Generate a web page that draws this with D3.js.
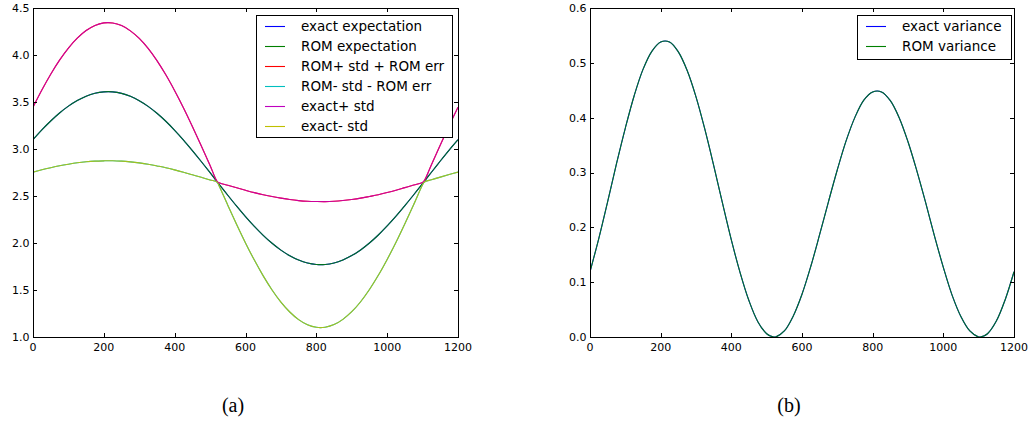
<!DOCTYPE html>
<html>
<head>
<meta charset="utf-8">
<script src="https://cdn.jsdelivr.net/npm/d3@7"></script>
<style>
  html, body { margin: 0; padding: 0; background: #fff; }
  svg { display: block; }
  text { font-family: "DejaVu Sans", sans-serif; fill: #000; }
</style>
</head>
<body>
<svg id="chart" width="1033" height="424"></svg>
<script>
// ---- data ----
const xs = [0,25,50,75,100,125,150,175,200,225,250,275,300,325,350,375,400,425,450,475,500,520,
  525,550,575,600,625,650,675,700,725,750,775,800,825,850,875,900,925,950,975,1000,1025,1050,1075,1100,1105,
  1125,1150,1175,1200];
const exactMean = [3.099,3.203,3.298,3.383,3.456,3.516,3.562,3.593,3.608,3.608,3.592,3.560,3.514,3.454,3.380,3.295,3.199,3.095,2.983,2.867,2.748,2.651,
  2.627,2.508,2.392,2.281,2.177,2.082,1.997,1.924,1.864,1.818,1.787,1.772,1.772,1.788,1.820,1.866,1.926,2.000,2.085,2.181,2.285,2.397,2.513,2.632,2.656,
  2.753,2.872,2.988,3.099];
const romMean = exactMean.slice(); // indistinguishable from exact in the picture
const upperStd = [3.444,3.627,3.795,3.945,4.074,4.179,4.260,4.315,4.342,4.341,4.313,4.257,4.176,4.070,3.940,3.789,3.620,3.437,3.240,3.035,2.825,2.654,
  2.642,2.614,2.587,2.561,2.536,2.514,2.494,2.477,2.462,2.451,2.444,2.441,2.440,2.444,2.452,2.463,2.477,2.495,2.514,2.537,2.562,2.589,2.616,2.644,2.663,
  2.833,3.043,3.248,3.444];
const lowerStd = [2.754,2.779,2.801,2.821,2.838,2.853,2.864,2.871,2.874,2.875,2.871,2.863,2.852,2.838,2.820,2.801,2.778,2.753,2.726,2.699,2.671,2.648,
  2.612,2.402,2.197,2.001,1.818,1.650,1.500,1.371,1.266,1.185,1.130,1.103,1.104,1.132,1.188,1.269,1.375,1.505,1.656,1.825,2.008,2.205,2.410,2.620,2.649,
  2.673,2.701,2.728,2.754];
const romUpper = upperStd.slice();
const romLower = lowerStd.slice();
const exactVar = [0.119,0.180,0.247,0.316,0.381,0.440,0.488,0.521,0.538,0.538,0.520,0.486,0.438,0.379,0.313,0.244,0.177,0.117,0.066,0.028,0.006,0.000,
  0.000,0.011,0.038,0.078,0.129,0.187,0.247,0.305,0.358,0.401,0.432,0.447,0.447,0.431,0.400,0.356,0.303,0.245,0.184,0.127,0.076,0.037,0.011,0.000,0.000,
  0.006,0.029,0.068,0.119];
const romVar = exactVar.slice();

const xTicks = [0,200,400,600,800,1000,1200];
const yTicksA = [1.0,1.5,2.0,2.5,3.0,3.5,4.0,4.5];
const yTicksB = [0.0,0.1,0.2,0.3,0.4,0.5,0.6];

const seriesA = [
  {label: "exact expectation", values: exactMean, color: "#0000ff", op: 1},
  {label: "ROM expectation", values: romMean, color: "#008000", op: 0.88},
  {label: "ROM+ std + ROM err", values: romUpper, color: "#ff0000", op: 1},
  {label: "ROM- std - ROM err", values: romLower, color: "#00bfbf", op: 1},
  {label: "exact+ std", values: upperStd, color: "#bf00bf", op: 0.8},
  {label: "exact- std", values: lowerStd, color: "#bfbf00", op: 0.85}
];
const seriesB = [
  {label: "exact variance", values: exactVar, color: "#0000ff", op: 1},
  {label: "ROM variance", values: romVar, color: "#008000", op: 0.88}
];

const svg = d3.select("#chart");
svg.append("rect").attr("width", 1033).attr("height", 424).attr("fill", "#fff");

function panel(opts) {
  const {x0, x1, y0, y1, ydom, yTicks, yFmt, series, legend, caption, capX} = opts;
  const x = d3.scaleLinear().domain([0, 1200]).range([x0, x1]);
  const y = d3.scaleLinear().domain(ydom).range([y1, y0]);
  const g = svg.append("g");
  const clipId = "clip" + Math.round(x0);
  g.append("clipPath").attr("id", clipId).append("rect")
    .attr("x", x0).attr("y", y0).attr("width", x1 - x0).attr("height", y1 - y0);

  const line = d3.line().x((d, i) => x(xs[i])).y(d => y(d)).curve(d3.curveCatmullRom.alpha(0.5));
  const lg = g.append("g").attr("clip-path", `url(#${clipId})`);
  series.forEach(s => {
    lg.append("path").attr("d", line(s.values)).attr("fill", "none")
      .attr("stroke", s.color).attr("stroke-width", 1.1).attr("stroke-opacity", s.op);
  });

  // ticks (inward, all four sides)
  const tl = 4;
  xTicks.forEach(t => {
    const px = Math.round(x(t)) + 0.5;
    g.append("line").attr("x1", px).attr("x2", px).attr("y1", y1).attr("y2", y1 - tl).attr("stroke", "#000");
    g.append("line").attr("x1", px).attr("x2", px).attr("y1", y0).attr("y2", y0 + tl).attr("stroke", "#000");
    g.append("text").attr("x", x(t)).attr("y", y1 + 14).attr("text-anchor", "middle")
      .attr("font-size", "11px").text(t);
  });
  yTicks.forEach(t => {
    const py = Math.round(y(t)) + 0.5;
    g.append("line").attr("x1", x0).attr("x2", x0 + tl).attr("y1", py).attr("y2", py).attr("stroke", "#000");
    g.append("line").attr("x1", x1).attr("x2", x1 - tl).attr("y1", py).attr("y2", py).attr("stroke", "#000");
    g.append("text").attr("x", x0 - 3.5).attr("y", y(t)).attr("dy", "0.36em").attr("text-anchor", "end")
      .attr("font-size", "11px").text(yFmt(t));
  });

  g.append("rect").attr("x", x0 + 0.5).attr("y", y0 + 0.5).attr("width", x1 - x0).attr("height", y1 - y0)
    .attr("fill", "none").attr("stroke", "#000").attr("stroke-width", 1);

  // legend
  const L = legend;
  const lgd = g.append("g");
  lgd.append("rect").attr("x", L.x + 0.5).attr("y", L.y + 0.5).attr("width", L.w).attr("height", L.h)
    .attr("fill", "#fff").attr("stroke", "#000").attr("stroke-width", 1);
  series.forEach((s, i) => {
    const ry = L.y + 11 + i * 20;
    lgd.append("line").attr("x1", L.x + 9).attr("x2", L.x + 29).attr("y1", ry + 0.5).attr("y2", ry + 0.5)
      .attr("stroke", s.color).attr("stroke-width", 1.1);
    lgd.append("text").attr("x", L.x + 45).attr("y", ry).attr("dy", "0.36em")
      .attr("font-size", "13.5px").text(s.label);
  });

  svg.append("text").attr("x", capX).attr("y", 412).attr("text-anchor", "middle")
    .style("font-family", "'Liberation Serif', 'DejaVu Serif', serif").attr("font-size", "20px").text(caption);
}

panel({x0: 33, x1: 458, y0: 8, y1: 337, ydom: [1.0, 4.5], yTicks: yTicksA, yFmt: d3.format(".1f"),
  series: seriesA, legend: {x: 256, y: 15, w: 196, h: 122}, caption: "(a)", capX: 233});
panel({x0: 590, x1: 1014, y0: 8, y1: 337, ydom: [0.0, 0.6], yTicks: yTicksB, yFmt: d3.format(".1f"),
  series: seriesB, legend: {x: 857, y: 15, w: 154, h: 44}, caption: "(b)", capX: 789});
</script>
</body>
</html>
